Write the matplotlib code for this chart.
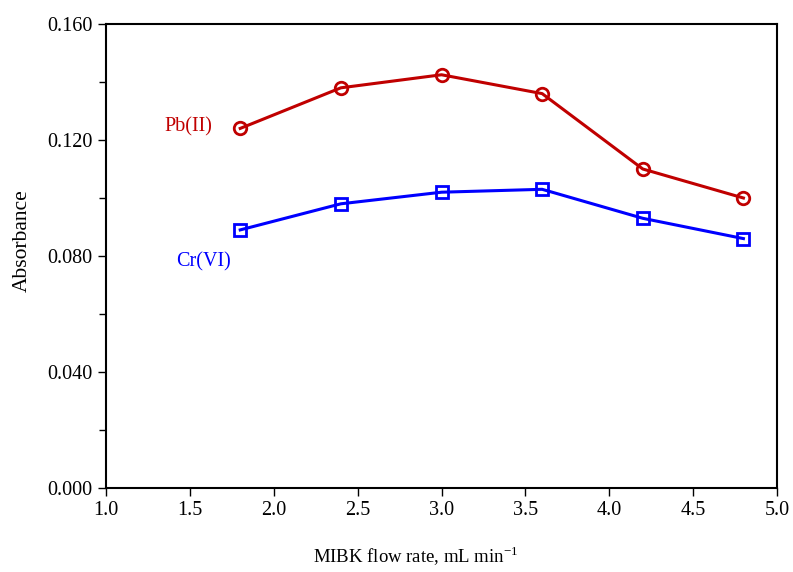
import matplotlib
matplotlib.use('Agg')
import matplotlib.pyplot as plt
from matplotlib.ticker import MultipleLocator, FormatStrFormatter

plt.rcParams['font.family'] = ['Liberation Serif', 'DejaVu Serif']
plt.rcParams['mathtext.fontset'] = 'custom'
plt.rcParams['mathtext.rm'] = 'Liberation Serif'

# flow rate (mL/min) and absorbance
flow = [1.8, 2.4, 3.0, 3.6, 4.2, 4.8]
pb = [0.124, 0.138, 0.1425, 0.136, 0.110, 0.100]
cr = [0.089, 0.098, 0.102, 0.103, 0.093, 0.086]

fig = plt.figure(figsize=(7.93, 5.72), dpi=100)
ax = fig.add_axes([0.1337, 0.1469, 0.8461, 0.8111])

ax.plot(flow, pb, '-o', color='#C00000', lw=2.2, ms=9, mfc='none', mew=2)
ax.plot(flow, cr, '-s', color='#0000FF', lw=2.2, ms=9, mfc='none', mew=2)

ax.text(1.35, 0.1245, 'Pb(II)', color='#C00000', fontsize=14.5, va='center')
ax.text(1.42, 0.078, 'Cr(VI)', color='#0000FF', fontsize=14.5, va='center')

ax.set_xlim(1.0, 5.0)
ax.set_ylim(0, 0.160)
ax.xaxis.set_major_locator(MultipleLocator(0.5))
ax.xaxis.set_major_formatter(FormatStrFormatter('%.1f'))
ax.yaxis.set_major_locator(MultipleLocator(0.040))
ax.yaxis.set_minor_locator(MultipleLocator(0.020))
ax.yaxis.set_major_formatter(FormatStrFormatter('%.3f'))
ax.tick_params(which='major', direction='out', length=6, width=1, labelsize=14.5)
ax.tick_params(which='minor', direction='out', length=5, width=1)
for s in ax.spines.values():
    s.set_linewidth(1.5)

ax.set_xlabel('MIBK flow rate, mL min$^{\\mathrm{-1}}$', fontsize=13.5)
ax.xaxis.set_label_coords(0.462, -0.122)
ax.set_ylabel('Absorbance', fontsize=15.5)
ax.yaxis.set_label_coords(-0.11, 0.534)

fig.savefig('out.png', dpi=100)
